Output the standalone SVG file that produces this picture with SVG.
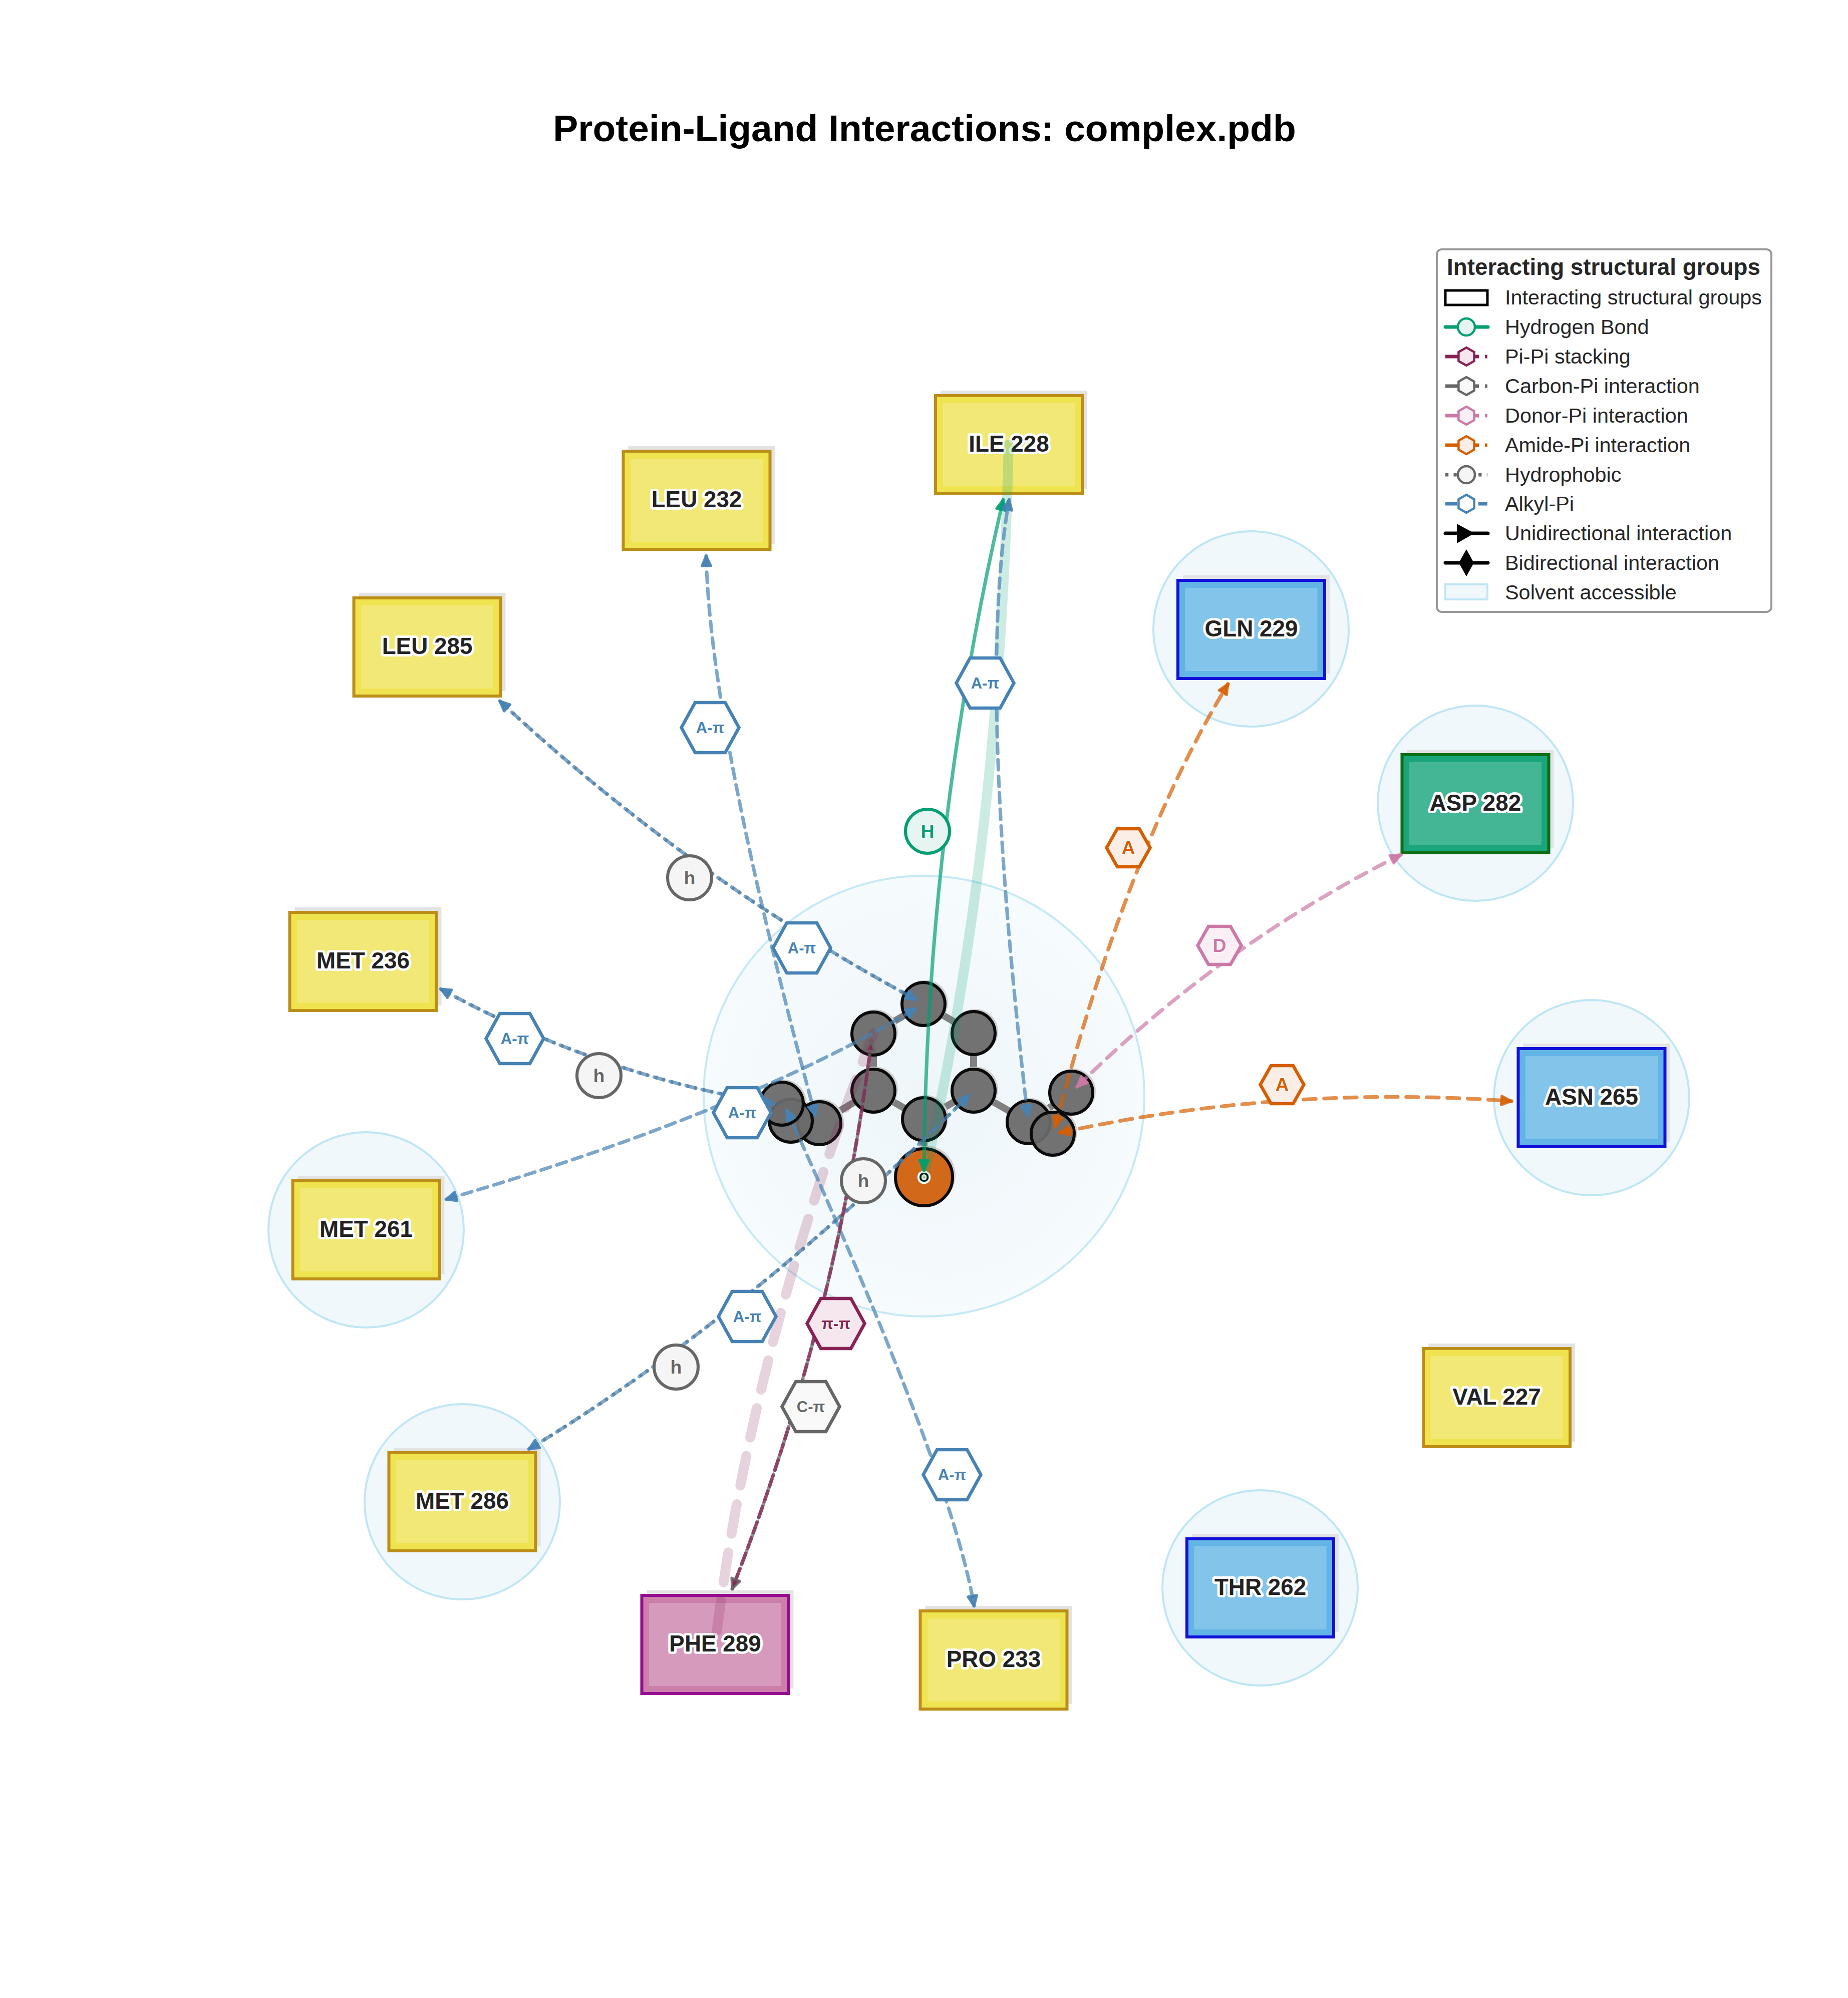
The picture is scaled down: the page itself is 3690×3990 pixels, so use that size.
<svg xmlns="http://www.w3.org/2000/svg" width="3690" height="3990" viewBox="0 0 3690 3990">
<style>
text{font-family:"Liberation Sans",Arial,sans-serif}
.sol{fill:#f0f8fb;stroke:#bfe6f4;stroke-width:4}
.sh{fill:#e3e3e3}
.res text{font-size:45.8px;font-weight:bold;fill:#222;text-anchor:middle;stroke:#fff;stroke-width:10;stroke-linejoin:round;paint-order:stroke}
.y .o{fill:#efe350;stroke:#bc8e17;stroke-width:6}.y .i{fill:#f2e875}
.b .o{fill:#62b4e6;stroke:#1010d8;stroke-width:6}.b .i{fill:#83c5ea}
.g .o{fill:#1aa57b;stroke:#0b6e14;stroke-width:6}.g .i{fill:#44b696}
.p .o{fill:#cc7fab;stroke:#970b8f;stroke-width:6}.p .i{fill:#d69abd}
.bond{stroke:#808080;stroke-width:14;fill:none}
.ash{fill:#d0d0d0}
.atom{fill:#6a6a6a;fill-opacity:.93;stroke:#0a0a0a;stroke-width:6}
.c{fill:none;stroke-width:7;stroke-linecap:round;stroke-opacity:.7}
.dash{stroke-dasharray:20 13}
.wdash{stroke-dasharray:24 17;stroke-width:7.5}
.dot{stroke-dasharray:6 9 6 12;stroke-linecap:butt;stroke-dashoffset:-1}
.blue{stroke:#4682b4}.org{stroke:#d55e00}.pnk{stroke:#cc79a7}.grn{stroke:#009e73}.mar{stroke:#882255}.gry{stroke:#666}
.hx{stroke-width:6.5;stroke-linejoin:miter}
.lb{font-weight:bold;text-anchor:middle}
.s31{font-size:31px}.s37{font-size:37.5px}
.lbl{stroke:#fff;stroke-width:3;paint-order:stroke}
.lg{font-size:41.4px;fill:#262626}
.lh{fill:none;stroke-width:7}
</style>
<defs>
<radialGradient id="cg"><stop offset="0" stop-color="#eef6fa"/><stop offset="1" stop-color="#f6fbfd"/></radialGradient>
<polygon id="hexL" points="-57.5,0 -30,-50 30,-50 57.5,0 30,50 -30,50"/>
<polygon id="hexS" points="-43.5,0 -22,-38 22,-38 43.5,0 22,38 -22,38"/>
<polygon id="hexV" points="0,-18 15.6,-9 15.6,9 0,18 -15.6,9 -15.6,-9"/>
<marker id="mB" markerUnits="userSpaceOnUse" markerWidth="36" markerHeight="30" viewBox="-30 -15 36 30" refX="0" refY="0" orient="auto-start-reverse"><path d="M-20,-9 L0,0 L-20,9 Z" fill="#4682b4" fill-opacity=".9" stroke="#4682b4" stroke-opacity=".9" stroke-width="5" stroke-linejoin="round"/></marker>
<marker id="mO" markerUnits="userSpaceOnUse" markerWidth="36" markerHeight="30" viewBox="-30 -15 36 30" refX="0" refY="0" orient="auto-start-reverse"><path d="M-20,-9 L0,0 L-20,9 Z" fill="#d55e00" fill-opacity=".9" stroke="#d55e00" stroke-opacity=".8" stroke-width="5" stroke-linejoin="round"/></marker>
<marker id="mP" markerUnits="userSpaceOnUse" markerWidth="36" markerHeight="30" viewBox="-30 -15 36 30" refX="0" refY="0" orient="auto-start-reverse"><path d="M-20,-9 L0,0 L-20,9 Z" fill="#cc79a7" fill-opacity=".9" stroke="#cc79a7" stroke-opacity=".85" stroke-width="5" stroke-linejoin="round"/></marker>
<marker id="mG" markerUnits="userSpaceOnUse" markerWidth="36" markerHeight="30" viewBox="-30 -15 36 30" refX="0" refY="0" orient="auto-start-reverse"><path d="M-20,-9 L0,0 L-20,9 Z" fill="#009e73" fill-opacity=".9" stroke="#009e73" stroke-opacity=".85" stroke-width="5" stroke-linejoin="round"/></marker>
<marker id="mM" markerUnits="userSpaceOnUse" markerWidth="36" markerHeight="30" viewBox="-30 -15 36 30" refX="0" refY="0" orient="auto-start-reverse"><path d="M-20,-9 L0,0 L-20,9 Z" fill="#882255" fill-opacity=".9" stroke="#666" stroke-opacity=".85" stroke-width="5" stroke-linejoin="round"/></marker>
</defs>
<rect width="3690" height="3990" fill="#fff"/>
<text x="1846" y="282" font-size="75" font-weight="bold" text-anchor="middle" fill="#000">Protein-Ligand Interactions: complex.pdb</text>

<g id="solvent">
<circle cx="1845" cy="2189" r="440" fill="url(#cg)" stroke="#c6e9f6" stroke-width="4"/>
<circle class="sol" cx="2498" cy="1256" r="195"/>
<circle class="sol" cx="2946" cy="1604" r="195"/>
<circle class="sol" cx="3178" cy="2192" r="195"/>
<circle class="sol" cx="2516" cy="3171" r="195"/>
<circle class="sol" cx="923" cy="2999" r="195"/>
<circle class="sol" cx="731" cy="2456" r="195"/>
</g>

<g id="ligand">
<path class="bond" d="M1844,2005 L1744,2064 L1744,2178 L1845,2235 L1944,2178 L1944,2063 Z M1744,2178 L1636,2243 L1579,2238 L1561,2204 M1944,2178 L2054,2241 L2139,2182 M2054,2241 L2102,2264 M1845,2235 L1845,2351"/>
<g class="ash">
<circle cx="1848" cy="2002" r="45"/><circle cx="1748" cy="2061" r="45"/><circle cx="1948" cy="2060" r="45"/><circle cx="1748" cy="2175" r="45"/><circle cx="1948" cy="2175" r="45"/><circle cx="1849" cy="2232" r="45"/><circle cx="1640" cy="2240" r="45"/><circle cx="1583" cy="2235" r="45"/><circle cx="1565" cy="2201" r="45"/><circle cx="2058" cy="2238" r="45"/><circle cx="2143" cy="2179" r="45"/><circle cx="2106" cy="2261" r="45"/><circle cx="1849" cy="2347" r="59"/>
</g>
<g class="atom">
<circle cx="1844" cy="2005" r="43"/><circle cx="1744" cy="2064" r="43"/><circle cx="1944" cy="2063" r="43"/><circle cx="1744" cy="2178" r="43"/><circle cx="1944" cy="2178" r="43"/><circle cx="1845" cy="2235" r="43"/><circle cx="1636" cy="2243" r="43"/><circle cx="1579" cy="2238" r="43"/><circle cx="1561" cy="2204" r="43"/><circle cx="2054" cy="2241" r="43"/><circle cx="2139" cy="2182" r="43"/><circle cx="2102" cy="2264" r="43"/>
</g>
<circle cx="1845" cy="2351" r="57" fill="#d2691a" stroke="#0a0a0a" stroke-width="6"/>
<text x="1845" y="2360" font-size="26" font-weight="bold" text-anchor="middle" fill="#000" stroke="#fff" stroke-width="8" stroke-linejoin="round" paint-order="stroke">O</text>
</g>

<g id="residues" class="res">
<g id="ILE228" class="y" transform="translate(2014.5 888)"><rect class="sh" x="-136.5" y="-108" width="293" height="196"/><rect class="o" x="-146.5" y="-98" width="293" height="196"/><rect class="i" x="-132" y="-83" width="264" height="166"/><text y="13.5">ILE 228</text></g>
<g id="LEU232" class="y" transform="translate(1391 999)"><rect class="sh" x="-136.5" y="-108" width="293" height="196"/><rect class="o" x="-146.5" y="-98" width="293" height="196"/><rect class="i" x="-132" y="-83" width="264" height="166"/><text y="13.5">LEU 232</text></g>
<g id="LEU285" class="y" transform="translate(853 1292)"><rect class="sh" x="-136.5" y="-108" width="293" height="196"/><rect class="o" x="-146.5" y="-98" width="293" height="196"/><rect class="i" x="-132" y="-83" width="264" height="166"/><text y="13.5">LEU 285</text></g>
<g id="MET236" class="y" transform="translate(725 1920)"><rect class="sh" x="-136.5" y="-108" width="293" height="196"/><rect class="o" x="-146.5" y="-98" width="293" height="196"/><rect class="i" x="-132" y="-83" width="264" height="166"/><text y="13.5">MET 236</text></g>
<g id="MET261" class="y" transform="translate(731 2456)"><rect class="sh" x="-136.5" y="-108" width="293" height="196"/><rect class="o" x="-146.5" y="-98" width="293" height="196"/><rect class="i" x="-132" y="-83" width="264" height="166"/><text y="13.5">MET 261</text></g>
<g id="MET286" class="y" transform="translate(923 2999)"><rect class="sh" x="-136.5" y="-108" width="293" height="196"/><rect class="o" x="-146.5" y="-98" width="293" height="196"/><rect class="i" x="-132" y="-83" width="264" height="166"/><text y="13.5">MET 286</text></g>
<g id="PHE289" class="p" transform="translate(1428 3284)"><rect class="sh" x="-136.5" y="-108" width="293" height="196"/><rect class="o" x="-146.5" y="-98" width="293" height="196"/><rect class="i" x="-132" y="-83" width="264" height="166"/><text y="13.5">PHE 289</text></g>
<g id="PRO233" class="y" transform="translate(1984 3315)"><rect class="sh" x="-136.5" y="-108" width="293" height="196"/><rect class="o" x="-146.5" y="-98" width="293" height="196"/><rect class="i" x="-132" y="-83" width="264" height="166"/><text y="13.5">PRO 233</text></g>
<g id="THR262" class="b" transform="translate(2516.5 3171)"><rect class="sh" x="-136.5" y="-108" width="293" height="196"/><rect class="o" x="-146.5" y="-98" width="293" height="196"/><rect class="i" x="-132" y="-83" width="264" height="166"/><text y="13.5">THR 262</text></g>
<g id="VAL227" class="y" transform="translate(2988.5 2791)"><rect class="sh" x="-136.5" y="-108" width="293" height="196"/><rect class="o" x="-146.5" y="-98" width="293" height="196"/><rect class="i" x="-132" y="-83" width="264" height="166"/><text y="13.5">VAL 227</text></g>
<g id="ASN265" class="b" transform="translate(3178 2192)"><rect class="sh" x="-136.5" y="-108" width="293" height="196"/><rect class="o" x="-146.5" y="-98" width="293" height="196"/><rect class="i" x="-132" y="-83" width="264" height="166"/><text y="13.5">ASN 265</text></g>
<g id="ASP282" class="g" transform="translate(2946 1605)"><rect class="sh" x="-136.5" y="-108" width="293" height="196"/><rect class="o" x="-146.5" y="-98" width="293" height="196"/><rect class="i" x="-132" y="-83" width="264" height="166"/><text y="13.5">ASP 282</text></g>
<g id="GLN229" class="b" transform="translate(2498.5 1257)"><rect class="sh" x="-136.5" y="-108" width="293" height="196"/><rect class="o" x="-146.5" y="-98" width="293" height="196"/><rect class="i" x="-132" y="-83" width="264" height="166"/><text y="13.5">GLN 229</text></g>
</g>

<g id="connectors">
<path d="M1845,2351 Q1996,1700 2014,888" fill="none" stroke="#009e73" stroke-opacity=".2" stroke-width="20" stroke-linecap="round"/>
<path d="M1744,2064 Q1500,2690 1428,3284" fill="none" stroke="#882255" stroke-opacity=".2" stroke-width="20" stroke-linecap="round" stroke-dasharray="60 38"/>
<path class="c grn" d="M1845,2337 Q1850,1659 2003,998" marker-start="url(#mG)" marker-end="url(#mG)"/>
<path class="c blue dash" d="M2052,2228 Q1950,1364 2015,998" marker-start="url(#mB)" marker-end="url(#mB)"/>
<path class="c blue dash" d="M1410,1110 Q1418,1453 1628,2228" marker-start="url(#mB)" marker-end="url(#mB)"/>
<path class="c blue dash" d="M1571,2217 Q1901,2945 1945,3207" marker-start="url(#mB)" marker-end="url(#mB)"/>
<path class="c blue dash" d="M891,2395 Q1482,2222 1829,2014" marker-start="url(#mB)" marker-end="url(#mB)"/>
<path class="c gry dot" d="M998,1400 Q1377,1753 1829,1996"/>
<path class="c blue dash" d="M998,1400 Q1377,1753 1829,1996" marker-start="url(#mB)" marker-end="url(#mB)"/>
<path class="c gry dot" d="M880,1975 Q1196,2148 1545,2204"/>
<path class="c blue dash" d="M880,1975 Q1196,2148 1545,2204" marker-start="url(#mB)" marker-end="url(#mB)"/>
<path class="c gry dot" d="M1056,2894 Q1492,2629 1934,2188"/>
<path class="c blue dash" d="M1056,2894 Q1492,2629 1934,2188" marker-start="url(#mB)" marker-end="url(#mB)"/>
<path class="c gry" stroke-dasharray="30 8 4 8" d="M1740,2079 Q1669,2643 1462,3173"/>
<path class="c mar" stroke-dasharray="22 11" d="M1740,2079 Q1669,2643 1462,3173" marker-start="url(#mM)" marker-end="url(#mM)"/>
<path class="c org wdash" d="M2107,2250 Q2252,1695 2452,1366" marker-start="url(#mO)" marker-end="url(#mO)"/>
<path class="c org wdash" d="M2116,2262 Q2560,2166 3018,2199" marker-start="url(#mO)" marker-end="url(#mO)"/>
<path class="c pnk wdash" d="M2151,2170 Q2436,1888 2797,1707" marker-start="url(#mP)" marker-end="url(#mP)"/>
</g>

<g id="labels">
<g fill="#fff" stroke="#4682b4" class="hx">
<use href="#hexL" x="1967" y="1364"/><use href="#hexL" x="1418" y="1453"/><use href="#hexL" x="1601" y="1893"/><use href="#hexL" x="1028" y="2074"/><use href="#hexL" x="1482" y="2222"/><use href="#hexL" x="1492" y="2629"/><use href="#hexL" x="1901" y="2945"/>
</g>
<use href="#hexL" x="1669" y="2643" fill="#f5e7ed" stroke="#882255" class="hx"/>
<use href="#hexL" x="1619" y="2809" fill="#f9f9f9" stroke="#666" class="hx"/>
<use href="#hexS" x="2253" y="1693" fill="#fbeee6" stroke="#d55e00" class="hx"/>
<use href="#hexS" x="2560" y="2166" fill="#fbeee6" stroke="#d55e00" class="hx"/>
<use href="#hexS" x="2435" y="1888" fill="#f9eff5" stroke="#cc79a7" class="hx"/>
<g fill="#f5f5f5" stroke="#666" stroke-width="6">
<circle cx="1377" cy="1753" r="44"/><circle cx="1196" cy="2148" r="44"/><circle cx="1724" cy="2358" r="44"/><circle cx="1350" cy="2730" r="44"/>
</g>
<circle cx="1852" cy="1660" r="44" fill="#e6f5f1" stroke="#009e73" stroke-width="6"/>
<g class="lb s31 lbl" fill="#4682b4">
<text x="1967" y="1375">A-π</text><text x="1418" y="1464">A-π</text><text x="1601" y="1904">A-π</text><text x="1028" y="2085">A-π</text><text x="1482" y="2233">A-π</text><text x="1492" y="2640">A-π</text><text x="1901" y="2956">A-π</text>
</g>
<text class="lb s31 lbl" fill="#882255" x="1669" y="2654">π-π</text>
<text class="lb s31 lbl" fill="#666" x="1619" y="2820">C-π</text>
<g class="lb s37 lbl" fill="#666">
<text x="1377" y="1766">h</text><text x="1196" y="2161">h</text><text x="1724" y="2371">h</text><text x="1350" y="2743">h</text>
</g>
<text class="lb s37 lbl" fill="#009e73" x="1852" y="1673">H</text>
<text class="lb s37 lbl" fill="#d55e00" x="2253" y="1706">A</text>
<text class="lb s37 lbl" fill="#d55e00" x="2560" y="2179">A</text>
<text class="lb s37 lbl" fill="#cc79a7" x="2435" y="1901">D</text>
</g>

<g id="legend">
<rect x="2869" y="498" width="668" height="724" rx="10" fill="#fff" fill-opacity=".9" stroke="#999" stroke-width="4"/>
<text x="3202" y="549" font-size="45.8" font-weight="bold" text-anchor="middle" fill="#262626">Interacting structural groups</text>
<rect x="2886" y="580" width="84" height="29" fill="#fff" stroke="#000" stroke-width="5"/>
<text class="lg" x="3005" y="608">Interacting structural groups</text>
<path class="lh" d="M2886,653H2971" stroke="#009e73" stroke-linecap="round"/>
<circle cx="2928" cy="653" r="17" fill="#e6f5f1" stroke="#009e73" stroke-width="4.5"/>
<text class="lg" x="3005" y="667">Hydrogen Bond</text>
<path class="lh" d="M2886,712H2970" stroke="#882255" stroke-dasharray="67 12 5 40"/>
<use href="#hexV" x="2928" y="712" fill="#f5e7ed" stroke="#882255" stroke-width="4.5"/>
<text class="lg" x="3005" y="726">Pi-Pi stacking</text>
<path class="lh" d="M2886,771H2970" stroke="#666" stroke-dasharray="67 12 5 40"/>
<use href="#hexV" x="2928" y="771" fill="#f9f9f9" stroke="#666" stroke-width="4.5"/>
<text class="lg" x="3005" y="785">Carbon-Pi interaction</text>
<path class="lh" d="M2886,830H2970" stroke="#cc79a7" stroke-dasharray="67 12 5 40"/>
<use href="#hexV" x="2928" y="830" fill="#f9eff5" stroke="#cc79a7" stroke-width="4.5"/>
<text class="lg" x="3005" y="844">Donor-Pi interaction</text>
<path class="lh" d="M2886,889H2970" stroke="#d55e00" stroke-dasharray="67 12 5 40"/>
<use href="#hexV" x="2928" y="889" fill="#fbeee6" stroke="#d55e00" stroke-width="4.5"/>
<text class="lg" x="3005" y="903">Amide-Pi interaction</text>
<path class="lh" d="M2886,948H2970" stroke="#666" stroke-dasharray="6.25 10.3"/>
<circle cx="2928" cy="948" r="17" fill="#f5f5f5" stroke="#666" stroke-width="4.5"/>
<text class="lg" x="3005" y="962">Hydrophobic</text>
<path class="lh" d="M2886,1006H2970" stroke="#4682b4" stroke-dasharray="23 10"/>
<use href="#hexV" x="2928" y="1006" fill="#fff" stroke="#4682b4" stroke-width="4.5"/>
<text class="lg" x="3005" y="1020">Alkyl-Pi</text>
<path class="lh" d="M2886,1065H2971" stroke="#000" stroke-linecap="round"/>
<polygon points="2909,1046 2944,1065 2909,1085" fill="#000"/>
<text class="lg" x="3005" y="1079">Unidirectional interaction</text>
<path class="lh" d="M2886,1124H2971" stroke="#000" stroke-linecap="round"/>
<polygon points="2928,1097 2943,1124 2928,1151 2913,1124" fill="#000"/>
<text class="lg" x="3005" y="1138">Bidirectional interaction</text>
<rect x="2886" y="1167" width="84" height="30" fill="#f0f8fb" stroke="#bfe6f4" stroke-width="4"/>
<text class="lg" x="3005" y="1197">Solvent accessible</text>
</g>
</svg>
